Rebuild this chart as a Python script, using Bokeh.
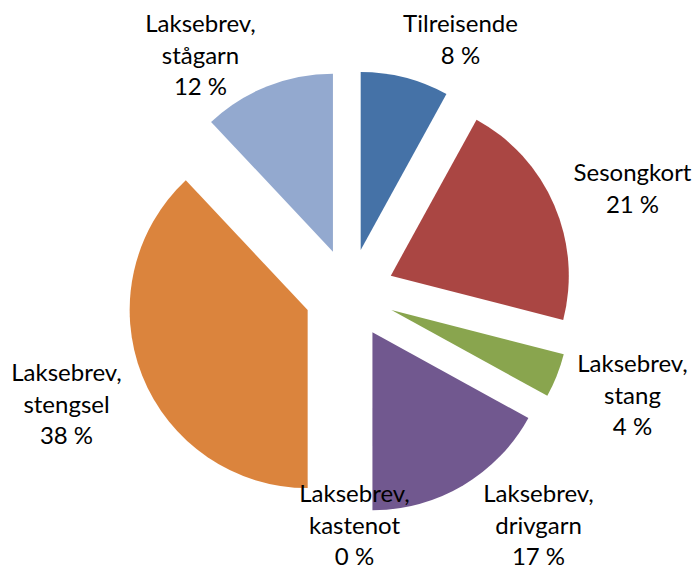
import math
from bokeh.plotting import figure
from bokeh.models import Range1d
from bokeh.core.properties import value
from bokeh.embed import file_html
from bokeh.resources import INLINE

# ---- data ----
categories = ["Tilreisende", "Sesongkort", "Laksebrev, stang", "Laksebrev, drivgarn",
              "Laksebrev, kastenot", "Laksebrev, stengsel", "Laksebrev, stågarn"]
shares = [8, 21, 4, 17, 0, 38, 12]
label_lines = [["Tilreisende", "8 %"],
               ["Sesongkort", "21 %"],
               ["Laksebrev,", "stang", "4 %"],
               ["Laksebrev,", "drivgarn", "17 %"],
               ["Laksebrev,", "kastenot", "0 %"],
               ["Laksebrev,", "stengsel", "38 %"],
               ["Laksebrev,", "stågarn", "12 %"]]

# ---- style / layout ----
colors = ["#4572A7", "#AA4643", "#89A54E", "#71588F", "#4198AF", "#DB843D", "#93A9CF"]
# label anchor: (centre x, first-line position y) in picture pixels
label_pos = [(460, 22), (632, 171), (632, 362), (538, 492), (354, 492), (66, 371), (200, 22)]
line_gap = 31.5
cx, cy = 349, 293
radius = 178
explode = 45
font = "Lato"
fsize = "24px"

W, H = 694, 570
p = figure(width=W, height=H, output_backend="svg", toolbar_location=None,
           x_range=Range1d(0, W), y_range=Range1d(-H, 0),
           min_border=0, outline_line_color=None)
p.axis.visible = False
p.grid.visible = False

total = float(sum(shares))
cum = 0.0
for val, col in zip(shares, colors):
    a1 = cum / total * 360.0
    cum += val
    a2 = cum / total * 360.0
    if val <= 0:
        continue
    b = math.radians((a1 + a2) / 2)
    x0 = cx + explode * math.sin(b)
    y0 = -cy + explode * math.cos(b)
    p.wedge(x=[x0], y=[y0], radius=radius,
            start_angle=math.radians(90 - a2), end_angle=math.radians(90 - a1),
            fill_color=col, line_color=None)

for lines, (lx, ly) in zip(label_lines, label_pos):
    for i, t in enumerate(lines):
        yy = ly + i * line_gap
        p.text(x=[lx], y=[-yy], text=[t], text_align="center", text_baseline="alphabetic",
               text_font=value(font), text_font_size=fsize, text_color="#000000")

open("out.html", "w").write(file_html(p, INLINE))
